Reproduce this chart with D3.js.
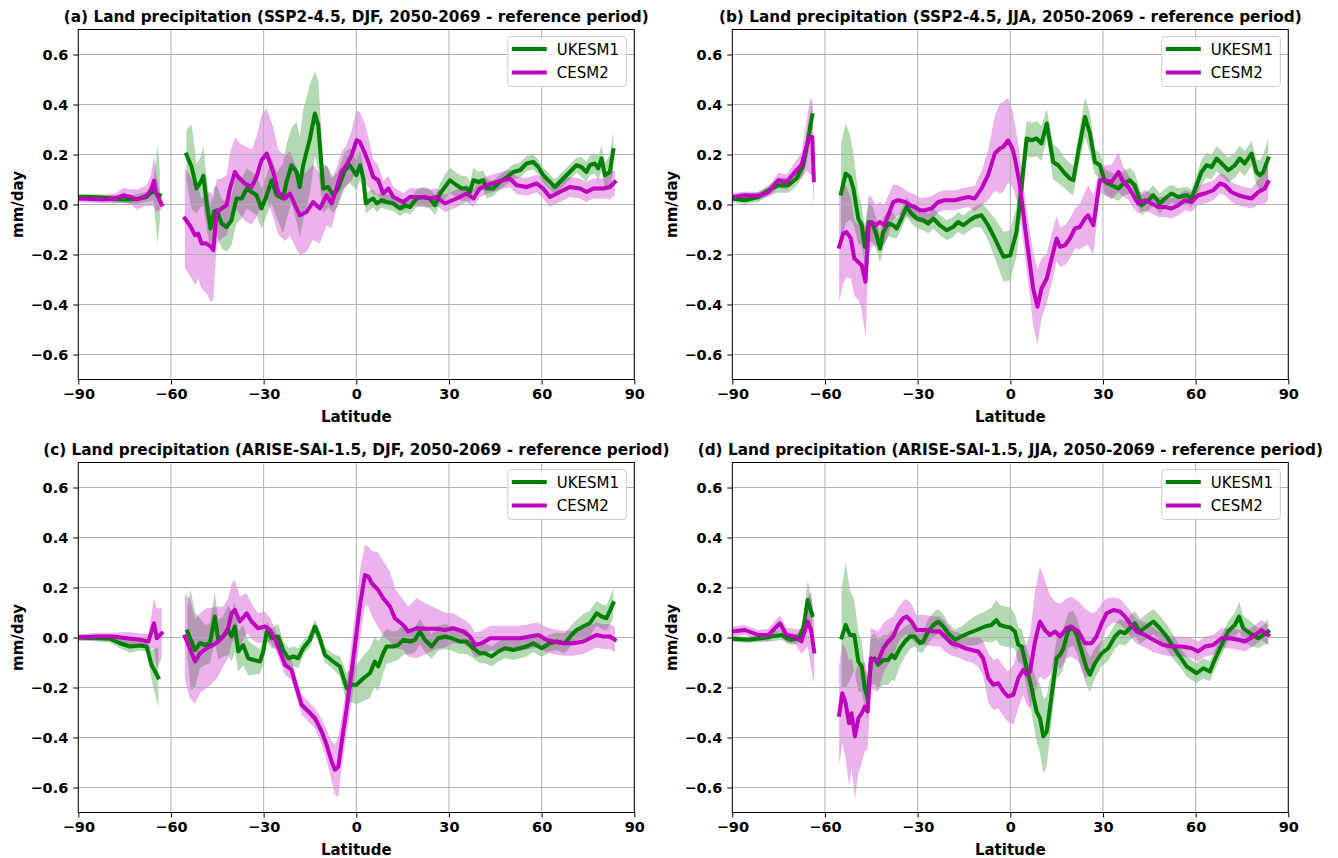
<!DOCTYPE html>
<html lang="en">
<head>
<meta charset="UTF-8">
<title>Land precipitation change</title>
<script src="https://cdn.jsdelivr.net/npm/d3@7"></script>
<style>
  body { margin: 0; background: #fff; }
  svg { font-family: "DejaVu Sans", sans-serif; }
</style>
</head>
<body>
<div id="chart"></div>
<script>
// each point: [latitude, ensemble mean (mm/day), half spread of ensemble]

// (a) SSP2-4.5, DJF
var ukesmA_ant = [[-90,0.03,0.012],[-86,0.03,0.012],[-82,0.028,0.012],[-78,0.022,0.015],[-74,0.02,0.015],[-71,0.022,0.02],[-68,0.03,0.02],[-65.7,0.057,0.04],[-64.3,0.04,0.2],[-63.6,0.037,0.1]];
var ukesmA = [[-55,0.2,0.1],[-53.3,0.15,0.17],[-51.7,0.064,0.1],[-50.4,0.09,0.1],[-49.5,0.115,0.12],[-48.5,0.01,0.1],[-47.2,-0.096,0.09],[-46.1,-0.03,0.1],[-45.2,-0.023,0.1],[-43.6,-0.076,0.1],[-42,-0.09,0.1],[-40.4,-0.063,0.1],[-38.8,0.024,0.1],[-37.1,0.024,0.08],[-35.5,0.064,0.08],[-32.3,0.037,0.08],[-30.7,-0.016,0.08],[-29,0.037,0.08],[-27.4,0.097,0.09],[-25.8,0.037,0.09],[-23.7,0.024,0.14],[-22.6,0.09,0.15],[-21,0.157,0.15],[-19.3,0.13,0.2],[-18.3,0.07,0.2],[-17.2,0.157,0.22],[-15,0.264,0.22],[-13.4,0.364,0.17],[-12.3,0.317,0.18],[-10.7,0.064,0.1],[-9.1,0.07,0.08],[-7.5,0.037,0.07],[-5.9,0.064,0.07],[-3.7,0.137,0.07],[-2.1,0.157,0.07],[0,0.117,0.06],[1.2,0.157,0.06],[2.3,0.104,0.05],[3.1,0.004,0.04],[4.4,0.017,0.04],[5.5,0.024,0.035],[6.6,0.004,0.035],[8.2,0.017,0.03],[9.8,0.01,0.03],[12,0.004,0.03],[14.1,-0.016,0.03],[15.7,-0.003,0.03],[17.4,-0.01,0.03],[19.5,0.024,0.035],[21.7,0.03,0.04],[23.8,0.024,0.04],[25.5,-0.003,0.04],[27.1,0.044,0.04],[28.7,0.07,0.05],[30.3,0.097,0.05],[32.5,0.077,0.05],[34.1,0.064,0.05],[35.7,0.064,0.05],[36.8,0.05,0.04],[37.9,0.097,0.05],[39.5,0.09,0.04],[41.1,0.097,0.04],[42.2,0.064,0.04],[44.3,0.064,0.03],[46.5,0.09,0.03],[48.7,0.11,0.03],[50.8,0.13,0.03],[53,0.137,0.03],[55.1,0.164,0.03],[57.3,0.17,0.03],[58.9,0.15,0.03],[60.5,0.117,0.03],[62.7,0.09,0.03],[64.3,0.07,0.03],[67,0.104,0.03],[69.1,0.13,0.03],[71.3,0.157,0.03],[72.9,0.15,0.04],[74.5,0.13,0.04],[75.6,0.157,0.04],[77.2,0.164,0.04],[78.3,0.144,0.05],[79.4,0.184,0.05],[80.5,0.117,0.05],[82.1,0.13,0.07],[83.2,0.217,0.08]];
var cesmA_ant = [[-90,0.024,0.015],[-86,0.022,0.015],[-82,0.02,0.015],[-78,0.025,0.02],[-75.4,0.037,0.03],[-73,0.03,0.03],[-71,0.02,0.04],[-68,0.035,0.04],[-66.5,0.055,0.06],[-65.5,0.095,0.1],[-64.9,0.05,0.08],[-63,0.0,0.02]];
var cesmA = [[-55.5,-0.056,0.2],[-53.9,-0.083,0.2],[-52.2,-0.123,0.2],[-51.2,-0.116,0.18],[-50.1,-0.156,0.18],[-48.5,-0.156,0.2],[-47,-0.17,0.22],[-46.3,-0.183,0.2],[-45.2,-0.03,0.13],[-43.6,-0.016,0.12],[-42,-0.003,0.12],[-40.9,0.064,0.14],[-39.3,0.13,0.14],[-38.2,0.11,0.14],[-36.1,0.084,0.15],[-33.9,0.07,0.15],[-32.3,0.11,0.16],[-30.7,0.177,0.18],[-29,0.204,0.18],[-26.9,0.13,0.18],[-25.3,0.05,0.17],[-23.1,0.024,0.17],[-21.5,0.044,0.17],[-18.3,-0.043,0.16],[-16.1,-0.03,0.16],[-14,0.01,0.15],[-11.8,-0.016,0.14],[-9.6,0.037,0.12],[-8,0.004,0.1],[-6.4,0.064,0.08],[-4.8,0.13,0.08],[-3.2,0.157,0.08],[-1.5,0.197,0.1],[0.1,0.257,0.12],[1.2,0.25,0.12],[2.8,0.204,0.12],[3.9,0.17,0.1],[5.5,0.11,0.07],[7.1,0.097,0.06],[8.7,0.044,0.05],[10.4,0.064,0.05],[12,0.03,0.04],[15.2,0.01,0.035],[17.4,0.03,0.035],[21.7,0.03,0.035],[23.8,0.024,0.035],[26,0.03,0.035],[28.7,0.004,0.035],[32.5,0.024,0.035],[35.7,0.044,0.035],[37.9,0.024,0.035],[40,0.064,0.035],[42.2,0.077,0.035],[45.4,0.09,0.035],[49.7,0.104,0.035],[51.9,0.077,0.035],[55.1,0.07,0.035],[58.4,0.084,0.035],[60.5,0.064,0.04],[62.7,0.03,0.04],[65.9,0.05,0.04],[69.1,0.07,0.04],[72.4,0.064,0.04],[74.5,0.05,0.04],[76.7,0.064,0.04],[79.9,0.064,0.04],[82.1,0.07,0.05],[83.7,0.09,0.05]];

// (b) SSP2-4.5, JJA
var ukesmB_ant = [[-90,0.024,0.015],[-85.9,0.017,0.015],[-81.6,0.03,0.02],[-78.3,0.057,0.02],[-75.1,0.077,0.03],[-71.9,0.077,0.03],[-69.2,0.104,0.03],[-67,0.157,0.04],[-65.4,0.264,0.06],[-64.1,0.357,0.06]];
var ukesmB = [[-54.8,0.044,0.2],[-53.3,0.124,0.2],[-51.9,0.11,0.17],[-50.8,0.064,0.14],[-49.2,-0.056,0.1],[-48.1,-0.083,0.08],[-47.1,-0.169,0.08],[-45.8,-0.07,0.08],[-44.4,-0.083,0.07],[-43.3,-0.123,0.06],[-42.2,-0.176,0.06],[-41.1,-0.11,0.06],[-39.5,-0.076,0.05],[-37.9,-0.083,0.05],[-36.8,-0.096,0.04],[-35.2,-0.056,0.04],[-33.6,-0.01,0.04],[-32,-0.036,0.04],[-30.3,-0.056,0.04],[-28.2,-0.063,0.04],[-26.6,-0.076,0.04],[-24.9,-0.056,0.04],[-22.8,-0.083,0.04],[-20.6,-0.103,0.04],[-18.5,-0.09,0.04],[-16.9,-0.07,0.04],[-15.2,-0.083,0.04],[-13.1,-0.063,0.04],[-11.5,-0.05,0.04],[-9.3,-0.043,0.05],[-7.2,-0.083,0.06],[-5,-0.136,0.08],[-2.2,-0.209,0.1],[0,-0.203,0.1],[2,-0.11,0.1],[3.7,0.077,0.1],[5.3,0.264,0.07],[6.9,0.257,0.07],[8.5,0.264,0.07],[10.1,0.244,0.07],[11.8,0.324,0.06],[13.9,0.17,0.07],[15.5,0.157,0.07],[17.7,0.124,0.06],[19.3,0.104,0.06],[20.4,0.097,0.06],[22,0.21,0.06],[24.2,0.35,0.08],[25.8,0.284,0.08],[27.4,0.17,0.05],[29,0.157,0.05],[30.7,0.09,0.05],[32.8,0.077,0.05],[35,0.064,0.05],[36.6,0.084,0.05],[38.7,0.097,0.05],[40.3,0.077,0.05],[42.5,-0.003,0.04],[44.7,0.017,0.04],[46.3,0.037,0.04],[48.4,0.004,0.04],[50.1,0.024,0.04],[52.2,0.044,0.035],[54.4,0.03,0.035],[57.1,0.037,0.035],[58.7,0.024,0.035],[60.3,0.077,0.04],[61.9,0.13,0.05],[63.5,0.157,0.05],[65.2,0.15,0.05],[66.8,0.184,0.05],[68.4,0.164,0.05],[70.6,0.137,0.05],[72.7,0.157,0.05],[74.3,0.184,0.05],[75.9,0.164,0.05],[78.1,0.204,0.05],[79.7,0.13,0.05],[80.8,0.117,0.06],[81.9,0.13,0.07],[83.5,0.184,0.08]];
var cesmB_ant = [[-90,0.03,0.015],[-85.9,0.037,0.015],[-81.6,0.035,0.015],[-78.3,0.05,0.02],[-75.1,0.097,0.03],[-72.4,0.09,0.03],[-69.7,0.13,0.04],[-67.6,0.157,0.05],[-65.9,0.237,0.1],[-64.9,0.27,0.15],[-64.1,0.27,0.15],[-63.6,0.097,0.12]];
var cesmB = [[-55.4,-0.169,0.22],[-54.1,-0.116,0.2],[-53,-0.11,0.18],[-51.6,-0.136,0.16],[-50.5,-0.216,0.15],[-49.2,-0.23,0.15],[-48.1,-0.243,0.18],[-46.9,-0.309,0.22],[-45.8,-0.083,0.12],[-44.9,-0.07,0.1],[-43.6,-0.083,0.08],[-42.2,-0.07,0.08],[-40.8,-0.083,0.08],[-39.5,-0.043,0.08],[-37.9,0.01,0.07],[-36.3,0.017,0.06],[-34.1,0.01,0.05],[-32.5,-0.003,0.05],[-30.9,-0.01,0.05],[-29.3,-0.023,0.05],[-27.6,-0.023,0.05],[-25.5,-0.016,0.05],[-23.3,0.01,0.04],[-21.2,0.017,0.04],[-17.9,0.017,0.04],[-15.8,0.024,0.04],[-13.6,0.03,0.04],[-11.5,0.024,0.05],[-9.3,0.064,0.07],[-7.2,0.117,0.1],[-5,0.204,0.15],[-3.4,0.224,0.18],[-2.3,0.23,0.18],[-0.7,0.257,0.17],[0.8,0.22,0.15],[1.5,0.184,0.14],[3.1,0.077,0.12],[4.7,-0.083,0.12],[6.4,-0.243,0.13],[7.4,-0.336,0.15],[8.8,-0.409,0.15],[10.1,-0.336,0.12],[11.8,-0.296,0.1],[13.4,-0.216,0.1],[15,-0.136,0.09],[16.1,-0.169,0.08],[17.7,-0.163,0.08],[19.3,-0.136,0.08],[20.9,-0.096,0.08],[22.5,-0.09,0.09],[24.2,-0.056,0.11],[25.2,-0.043,0.12],[26.9,-0.083,0.12],[29,0.097,0.05],[30.6,0.097,0.06],[32.8,0.09,0.07],[35,0.13,0.08],[36.6,0.09,0.06],[38.2,0.07,0.05],[39.8,0.037,0.05],[41.4,0.004,0.04],[43.6,0.017,0.04],[45.7,0.004,0.04],[47.9,-0.01,0.04],[50.1,-0.01,0.04],[52.2,-0.016,0.04],[54.4,-0.003,0.04],[56.5,0.017,0.04],[58.7,0.01,0.04],[60.8,0.037,0.04],[63,0.044,0.04],[65.7,0.057,0.04],[67.9,0.084,0.04],[69.5,0.077,0.04],[71.6,0.05,0.04],[73.8,0.037,0.04],[75.9,0.03,0.04],[78.1,0.024,0.04],[80.3,0.05,0.05],[82.4,0.064,0.06],[83.5,0.09,0.07]];

// (c) ARISE-SAI-1.5, DJF
var ukesmC_ant = [[-90,0,0.012],[-84.1,-0.003,0.012],[-79.8,-0.005,0.015],[-76.5,-0.023,0.02],[-73.3,-0.036,0.025],[-70,-0.032,0.02],[-67.9,-0.036,0.02],[-66.3,-0.109,0.06],[-64.1,-0.16,0.12]];
var ukesmC = [[-54.7,0.024,0.1],[-53.6,-0.009,0.2],[-52.2,-0.05,0.15],[-50.6,-0.023,0.1],[-49,-0.03,0.08],[-47.4,-0.023,0.08],[-45.8,0.084,0.1],[-44.7,-0.009,0.08],[-43.1,0.004,0.08],[-41.5,0.03,0.1],[-40.4,0.004,0.1],[-39.3,0.044,0.1],[-38.2,-0.056,0.08],[-36.6,-0.03,0.08],[-35,-0.083,0.07],[-33.4,-0.089,0.06],[-31.2,-0.096,0.05],[-30.1,-0.056,0.05],[-29,0.024,0.04],[-27.4,-0.003,0.04],[-25.3,0.004,0.05],[-23.7,-0.05,0.04],[-22,-0.083,0.04],[-20.4,-0.076,0.04],[-18.8,-0.083,0.04],[-17.2,-0.043,0.03],[-15,-0.009,0.03],[-13.4,0.044,0.03],[-11.8,-0.003,0.03],[-10.2,-0.069,0.03],[-7.5,-0.096,0.03],[-5.3,-0.116,0.04],[-3.1,-0.203,0.06],[-1.5,-0.189,0.07],[0.1,-0.189,0.08],[2.3,-0.163,0.09],[4.4,-0.143,0.1],[6,-0.096,0.1],[7.1,-0.116,0.1],[8.7,-0.063,0.08],[9.8,-0.036,0.07],[12,-0.036,0.06],[13.6,-0.03,0.06],[15.2,-0.009,0.06],[17.4,-0.016,0.05],[19,-0.009,0.05],[20.6,0.024,0.05],[22.2,-0.009,0.05],[24.4,-0.036,0.05],[26.5,-0.003,0.05],[28.7,0.004,0.05],[30.9,-0.003,0.05],[33.5,-0.016,0.05],[35.7,-0.016,0.05],[37.9,-0.043,0.04],[40,-0.063,0.04],[41.6,-0.063,0.04],[43.8,-0.076,0.04],[46,-0.056,0.04],[48.1,-0.043,0.04],[50.8,-0.05,0.04],[53,-0.043,0.04],[55.1,-0.036,0.04],[57.3,-0.023,0.035],[60,-0.043,0.035],[62.7,-0.023,0.035],[64.8,-0.016,0.035],[67.5,-0.023,0.04],[69.7,0.01,0.04],[71.3,0.03,0.04],[73.5,0.044,0.05],[75.6,0.057,0.05],[77.8,0.097,0.05],[79.4,0.084,0.05],[81,0.077,0.05],[83.2,0.137,0.06]];
var cesmC_ant = [[-90,0,0.012],[-84,0.004,0.015],[-78.7,0.004,0.015],[-74.4,-0.003,0.025],[-70,-0.009,0.025],[-67.3,-0.016,0.03],[-65.5,0.057,0.1],[-64.6,-0.003,0.12],[-63,0.017,0.1]];
var cesmC = [[-55.5,0.004,0.17],[-53.9,-0.043,0.2],[-52.2,-0.096,0.17],[-50.6,-0.063,0.16],[-48.5,-0.043,0.16],[-46.3,-0.03,0.15],[-44.7,-0.016,0.14],[-43.1,0.004,0.12],[-41.5,0.037,0.12],[-40.4,0.097,0.12],[-39.3,0.11,0.12],[-37.7,0.064,0.1],[-35.5,0.097,0.08],[-33.9,0.064,0.07],[-31.8,0.037,0.06],[-29.6,0.044,0.06],[-28,0.03,0.05],[-26.4,-0.003,0.04],[-24.7,-0.056,0.04],[-23.1,-0.109,0.04],[-21,-0.129,0.04],[-19.3,-0.203,0.04],[-17.7,-0.269,0.04],[-15.5,-0.296,0.04],[-13.4,-0.323,0.04],[-11.2,-0.376,0.05],[-9.6,-0.429,0.06],[-8,-0.496,0.08],[-6.9,-0.529,0.1],[-5.8,-0.516,0.12],[-4.7,-0.416,0.1],[-3.1,-0.283,0.1],[-1.5,-0.136,0.12],[0,0.01,0.13],[1.2,0.13,0.14],[2.8,0.25,0.12],[3.9,0.244,0.12],[5,0.217,0.13],[7.1,0.19,0.15],[8.7,0.157,0.15],[10.9,0.124,0.14],[12.5,0.077,0.12],[15.2,0.05,0.1],[16.8,0.024,0.1],[19.5,0.037,0.12],[22.8,0.035,0.1],[26,0.035,0.08],[28.7,0.03,0.07],[31.4,0.037,0.06],[34.6,0.024,0.05],[36.8,0.004,0.05],[38.4,-0.03,0.05],[40.6,-0.023,0.05],[43.3,-0.003,0.05],[46.5,-0.003,0.05],[49.7,-0.003,0.05],[53,-0.003,0.05],[56.2,0.004,0.05],[58.9,0.01,0.05],[61.6,-0.009,0.05],[63.7,-0.016,0.05],[67,-0.023,0.05],[70.2,-0.023,0.05],[73.5,-0.016,0.05],[75.6,-0.003,0.05],[77.8,0.01,0.05],[79.9,0.004,0.05],[82.1,0.004,0.05],[83.7,-0.009,0.05]];

// (d) ARISE-SAI-1.5, JJA
var ukesmD_ant = [[-90,-0.005,0.012],[-84.8,-0.009,0.012],[-80.5,-0.003,0.015],[-77.3,0.004,0.02],[-74,0.01,0.02],[-72.4,-0.003,0.02],[-70.8,-0.009,0.02],[-68.6,-0.003,0.02],[-67,0.037,0.03],[-65.6,0.15,0.08],[-64.1,0.09,0.05]];
var ukesmD = [[-54.6,0,0.2],[-53.3,0.05,0.25],[-51.9,0.01,0.18],[-50.5,0.01,0.14],[-49.2,-0.096,0.12],[-48.1,-0.116,0.1],[-47.1,-0.203,0.08],[-46.2,-0.243,0.08],[-45.1,-0.096,0.1],[-44,-0.083,0.1],[-42.8,-0.109,0.1],[-41.1,-0.09,0.1],[-39.5,-0.09,0.1],[-38.4,-0.07,0.1],[-37.4,-0.083,0.09],[-35.7,-0.043,0.07],[-34.1,-0.016,0.06],[-32.5,0.004,0.05],[-30.9,0.004,0.04],[-29.2,-0.023,0.04],[-28.2,-0.016,0.04],[-26.6,0.024,0.05],[-24.9,0.05,0.05],[-23.3,0.064,0.05],[-21.7,0.044,0.05],[-20.1,0.017,0.04],[-17.9,-0.009,0.04],[-15.8,0.004,0.04],[-13.6,0.017,0.05],[-10.9,0.03,0.06],[-8.2,0.044,0.06],[-6.1,0.05,0.07],[-4.5,0.07,0.08],[-3.4,0.05,0.08],[-1.8,0.044,0.08],[0,0.04,0.08],[1.5,0.024,0.07],[2.6,-0.03,0.07],[3.7,-0.036,0.07],[5.3,-0.123,0.08],[6.9,-0.203,0.1],[8.5,-0.296,0.12],[9.6,-0.323,0.14],[10.7,-0.396,0.15],[11.8,-0.376,0.14],[13.4,-0.229,0.1],[15,-0.083,0.08],[16.1,-0.07,0.08],[17.2,-0.043,0.08],[18.8,0.03,0.07],[20.4,0.037,0.07],[21.5,0.01,0.07],[23.1,-0.056,0.07],[24.7,-0.123,0.07],[25.8,-0.149,0.07],[27.4,-0.103,0.06],[29.6,-0.063,0.05],[31.7,-0.043,0.05],[33.9,0.004,0.05],[35.5,0.024,0.05],[37.1,0.017,0.05],[38.7,0.037,0.05],[40.3,0.057,0.05],[42,0.024,0.05],[44.1,0.044,0.05],[46.3,0.064,0.05],[48.4,0.037,0.05],[50.6,0.004,0.05],[52.7,-0.036,0.05],[54.9,-0.076,0.04],[57.1,-0.116,0.04],[60.3,-0.143,0.04],[62.5,-0.123,0.04],[64.6,-0.136,0.04],[66.2,-0.089,0.04],[68.4,-0.03,0.04],[70.5,0.024,0.04],[72.7,0.05,0.05],[74.1,0.084,0.06],[75.4,0.037,0.05],[77.6,0.017,0.05],[80.3,-0.003,0.04],[81.9,0.01,0.04],[83.5,0.024,0.05]];
var cesmD_ant = [[-90,0.024,0.02],[-85.9,0.03,0.02],[-81.6,0.01,0.02],[-78.3,0.01,0.025],[-76.2,0.037,0.03],[-74.6,0.057,0.03],[-72.4,0.01,0.03],[-69.7,0.004,0.03],[-67.6,-0.016,0.05],[-65.6,0.064,0.1],[-64.5,0.03,0.15],[-63.5,-0.056,0.13]];
var cesmD = [[-55.4,-0.309,0.2],[-54.4,-0.223,0.2],[-53.3,-0.263,0.22],[-52.2,-0.343,0.25],[-51.4,-0.303,0.22],[-50.3,-0.396,0.25],[-49.2,-0.323,0.22],[-48.1,-0.303,0.2],[-47.1,-0.276,0.18],[-46.2,-0.296,0.15],[-45.1,-0.083,0.12],[-44,-0.09,0.12],[-42.8,-0.096,0.12],[-41.1,-0.043,0.1],[-39.5,-0.016,0.09],[-37.9,0.004,0.08],[-36.3,0.05,0.07],[-34.7,0.077,0.07],[-33.6,0.084,0.07],[-32,0.064,0.07],[-30.3,0.03,0.06],[-27.6,0.03,0.06],[-24.9,0.024,0.06],[-22.8,0.024,0.06],[-21.2,0.004,0.06],[-19,-0.023,0.05],[-16.9,-0.03,0.05],[-14.7,-0.043,0.05],[-12.5,-0.05,0.05],[-10.4,-0.056,0.06],[-8.8,-0.083,0.07],[-7.1,-0.163,0.1],[-5.5,-0.189,0.1],[-3.9,-0.183,0.1],[-2.2,-0.216,0.1],[-0.8,-0.236,0.1],[1,-0.229,0.12],[2.6,-0.163,0.12],[4.2,-0.129,0.1],[5.3,-0.149,0.12],[6.4,-0.136,0.15],[8,-0.016,0.2],[9.6,0.064,0.22],[11.2,0.03,0.2],[12.8,0.01,0.16],[14.5,0.024,0.12],[16.1,0.004,0.13],[18.2,0.037,0.12],[19.8,0.044,0.12],[22,0.024,0.12],[24.2,-0.023,0.14],[26.3,-0.023,0.12],[27.9,0.004,0.1],[29.6,0.057,0.08],[31.2,0.097,0.06],[33.4,0.11,0.05],[35.5,0.104,0.05],[37.1,0.084,0.05],[38.7,0.057,0.05],[40.9,0.024,0.05],[43.6,0.01,0.05],[46.3,-0.009,0.05],[49.5,-0.03,0.04],[52.2,-0.036,0.04],[55.5,-0.036,0.04],[58.7,-0.043,0.04],[60.8,-0.056,0.04],[63,-0.036,0.04],[65.7,-0.03,0.04],[68.4,-0.003,0.04],[71,-0.003,0.04],[73.8,-0.009,0.04],[75.9,-0.016,0.04],[78.6,0.004,0.04],[81.3,0.03,0.04],[83.5,0.01,0.04]];

var models = ["UKESM1", "CESM2"];
var colors = ["#008000", "#bf00bf"];
var latTicks = [-90, -60, -30, 0, 30, 60, 90];
var valTicks = [-0.6, -0.4, -0.2, 0, 0.2, 0.4, 0.6];
var titles = [
  "(a) Land precipitation (SSP2-4.5, DJF, 2050-2069 - reference period)",
  "(b) Land precipitation (SSP2-4.5, JJA, 2050-2069 - reference period)",
  "(c) Land precipitation (ARISE-SAI-1.5, DJF, 2050-2069 - reference period)",
  "(d) Land precipitation (ARISE-SAI-1.5, JJA, 2050-2069 - reference period)"
];

var panels = [
  { title: titles[0], left: 78.3, top: 29.5, series: [[ukesmA_ant, ukesmA], [cesmA_ant, cesmA]] },
  { title: titles[1], left: 732.3, top: 29.5, series: [[ukesmB_ant, ukesmB], [cesmB_ant, cesmB]] },
  { title: titles[2], left: 78.3, top: 462.5, series: [[ukesmC_ant, ukesmC], [cesmC_ant, cesmC]] },
  { title: titles[3], left: 732.3, top: 462.5, series: [[ukesmD_ant, ukesmD], [cesmD_ant, cesmD]] }
];

var W = 556, H = 350;
var fmtMinus = function(s) { return String(s).replace("-", "\u2212"); };

var svg = d3.select("#chart").append("svg")
    .attr("width", 1338)
    .attr("height", 858);

var x = d3.scaleLinear().domain([-90, 90]).range([0, W]);
var y = d3.scaleLinear().domain([-0.7, 0.7]).range([H, 0]);

var line = d3.line()
    .x(function(d) { return x(d[0]); })
    .y(function(d) { return y(d[1]); });

var band = d3.area()
    .x(function(d) { return x(d[0]); })
    .y0(function(d) { return y(d[1] - d[2]); })
    .y1(function(d) { return y(d[1] + d[2]); });

panels.forEach(function(p, i) {
  var g = svg.append("g").attr("transform", "translate(" + p.left + "," + p.top + ")");

  g.append("clipPath").attr("id", "clip" + i)
    .append("rect").attr("width", W).attr("height", H);

  var plot = g.append("g").attr("clip-path", "url(#clip" + i + ")");

  // spread bands
  p.series.forEach(function(segs, m) {
    segs.forEach(function(seg) {
      plot.append("path")
        .attr("d", band(seg))
        .attr("fill", colors[m])
        .attr("fill-opacity", 0.3);
    });
  });

  // grid (drawn above the bands, below the lines, like matplotlib)
  plot.selectAll(".gx").data(latTicks).enter().append("line")
    .attr("x1", function(d) { return x(d); }).attr("x2", function(d) { return x(d); })
    .attr("y1", 0).attr("y2", H)
    .attr("stroke", "#b0b0b0").attr("stroke-width", 1);
  plot.selectAll(".gy").data(valTicks).enter().append("line")
    .attr("y1", function(d) { return y(d); }).attr("y2", function(d) { return y(d); })
    .attr("x1", 0).attr("x2", W)
    .attr("stroke", "#b0b0b0").attr("stroke-width", 1);

  // mean lines
  p.series.forEach(function(segs, m) {
    segs.forEach(function(seg) {
      plot.append("path")
        .attr("d", line(seg))
        .attr("fill", "none")
        .attr("stroke", colors[m])
        .attr("stroke-width", 4)
        .attr("stroke-linejoin", "round")
        .attr("stroke-linecap", "square");
    });
  });

  // axes
  var xAxis = d3.axisBottom(x).tickValues(latTicks).tickSize(5).tickPadding(4)
      .tickFormat(function(d) { return fmtMinus(d); });
  var yAxis = d3.axisLeft(y).tickValues(valTicks).tickSize(5).tickPadding(5)
      .tickFormat(function(d) { return fmtMinus(d3.format(".1f")(d)); });

  var gx = g.append("g").attr("transform", "translate(0," + H + ")").call(xAxis);
  var gy = g.append("g").call(yAxis);
  [gx, gy].forEach(function(a) {
    a.select(".domain").remove();
    a.selectAll("text").attr("font-family", "DejaVu Sans").attr("font-size", 14.5)
      .attr("font-weight", "bold").attr("fill", "#000");
    a.selectAll("line").attr("stroke", "#000");
  });

  g.append("rect").attr("width", W).attr("height", H)
    .attr("fill", "none").attr("stroke", "#000").attr("stroke-width", 1);

  g.append("text")
    .attr("x", W / 2).attr("y", -8)
    .attr("text-anchor", "middle")
    .attr("font-size", 15.3).attr("font-weight", "bold")
    .text(p.title);

  g.append("text")
    .attr("x", W / 2).attr("y", H + 42)
    .attr("text-anchor", "middle")
    .attr("font-size", 15).attr("font-weight", "bold")
    .text("Latitude");

  g.append("text")
    .attr("transform", "translate(-55," + (H / 2) + ") rotate(-90)")
    .attr("text-anchor", "middle")
    .attr("font-size", 15).attr("font-weight", "bold")
    .text("mm/day");

  // legend
  var lg = g.append("g").attr("transform", "translate(" + (W - 126.5) + ",7)");
  lg.append("rect").attr("width", 118.5).attr("height", 50).attr("rx", 3)
    .attr("fill", "#fff").attr("fill-opacity", 0.8)
    .attr("stroke", "#cccccc").attr("stroke-width", 1);
  models.forEach(function(name, m) {
    var ly = 12.5 + m * 23.5;
    lg.append("line").attr("x1", 4).attr("x2", 39).attr("y1", ly).attr("y2", ly)
      .attr("stroke", colors[m]).attr("stroke-width", 4);
    lg.append("text").attr("x", 49).attr("y", ly + 5.5)
      .attr("font-size", 15).text(name);
  });
});
</script>
</body>
</html>
